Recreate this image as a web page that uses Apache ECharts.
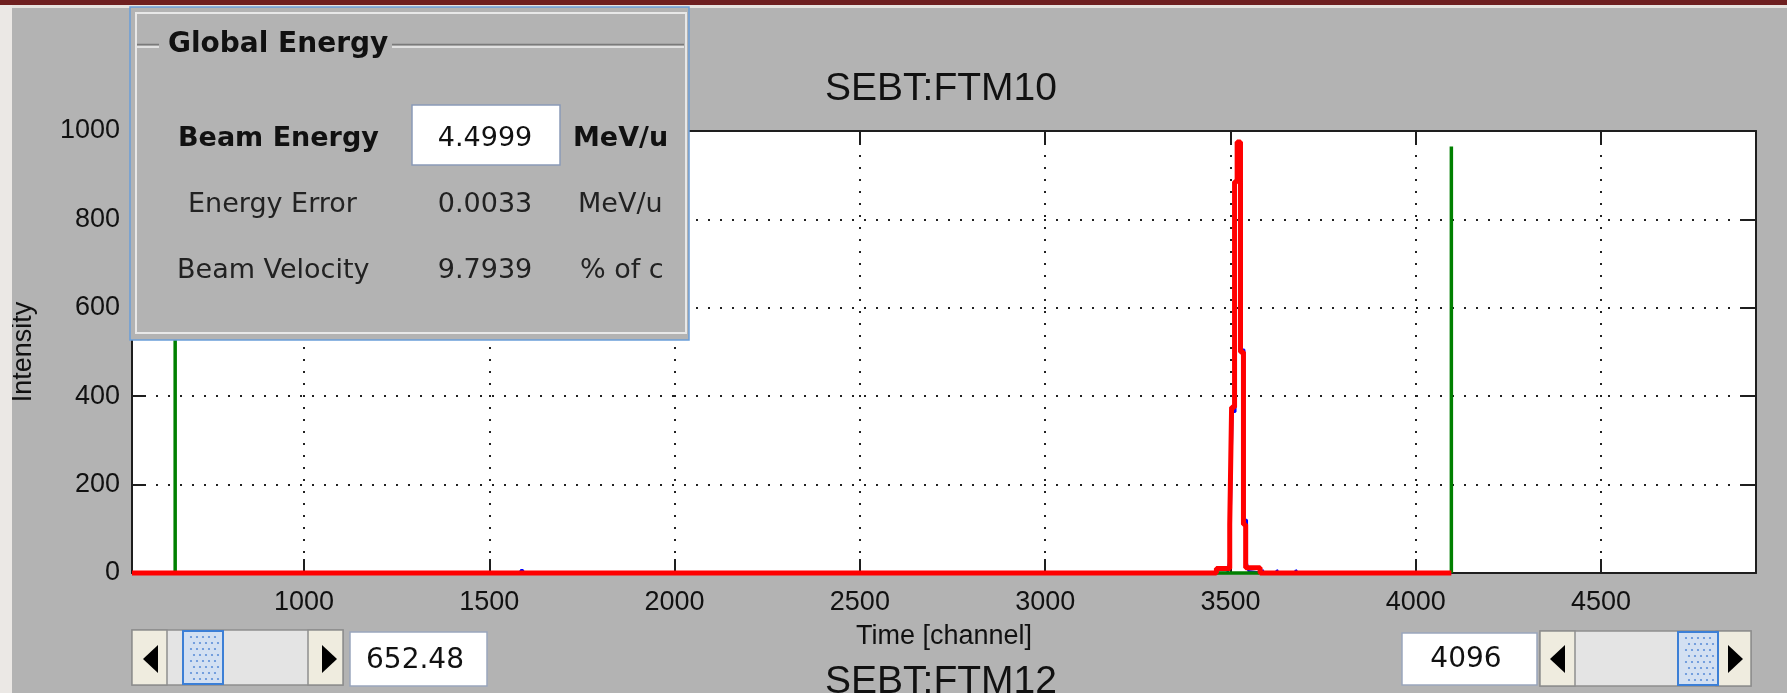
<!DOCTYPE html>
<html>
<head>
<meta charset="utf-8">
<title>SEBT:FTM10</title>
<script src="https://cdn.jsdelivr.net/npm/echarts@6/dist/echarts.min.js"></script>
<style>
  html, body { margin: 0; padding: 0; background: #b3b3b3; }
  #chart { width: 1787px; height: 693px; }
</style>
</head>
<body>
<div id="chart"></div>
<script>
// axis limits and ticks
const xMin = 536
const xMax = 4918
const xTicks = [1000, 1500, 2000, 2500, 3000, 3500, 4000, 4500]
const yMin = 0
const yMax = 1000
const yStep = 200

// fitted profile (red), drawn as stairs
const redX = [536, 3462, 3498, 3503, 3511, 3518, 3527, 3535, 3541, 3580, 4096]
const redY = [0, 10, 110, 375, 885, 975, 500, 110, 12, 0, 0]

// raw profile (blue)
const blueX = [536, 1585, 1591, 3492, 3496, 3500, 3505, 3513, 3519, 3524, 3529, 3537, 3544, 3549, 3553, 3586, 3590, 3625, 3629, 3676, 3681, 4096]
const blueY = [0, 6, 0, 0, 22, 112, 365, 885, 973, 925, 505, 120, 22, 4, 0, 7, 0, 7, 0, 7, 0, 0]

// window markers (green)
const markerChannels = [652.48, 4096]
const markerHeight = 965
const windowBase = [3462, 3578]

// panel values
const beamEnergy = '4.4999'
const energyError = '0.0033'
const beamVelocity = '9.7939'

const chart = echarts.init(document.getElementById('chart'))

const axisFont = 'Liberation Sans'
const panelFont = '"DejaVu Sans"'
const zip = (xs, ys) => xs.map((x, i) => [x, ys[i]])

const greenSeries = markerChannels.map(c => ({
  type: 'line', data: [[c, 0], [c, markerHeight]], showSymbol: false, clip: false, z: 3,
  lineStyle: { color: '#008000', width: 3.5 }, silent: true
}))
greenSeries.push({
  type: 'line', data: [[windowBase[0], 0], [windowBase[1], 0]], showSymbol: false, clip: false, z: 3,
  lineStyle: { color: '#008000', width: 3.5 }, silent: true
})

const txt = (text, x, y, font, align, color) => ({
  type: 'text', z: 20, silent: true,
  style: { text, x, y, font, fill: color || '#111', align: align || 'left', textAlign: align || 'left', verticalAlign: 'middle', textVerticalAlign: 'middle' }
})
const box = (x, y, w, h, fill, stroke, lw) => ({
  type: 'rect', z: 20, silent: true,
  shape: { x, y, width: w, height: h },
  style: { fill: fill || 'none', stroke: stroke || 'none', lineWidth: lw || 1 }
})
const line = (x1, y1, x2, y2, color, w) => ({
  type: 'line', z: 21, silent: true,
  shape: { x1, y1, x2, y2 }, style: { stroke: color, lineWidth: w || 1 }
})
const tri = (pts) => ({ type: 'polygon', z: 22, silent: true, shape: { points: pts }, style: { fill: '#000' } })

// scrollbar with a dotted thumb
const slider = (x, y, thumbX) => {
  const els = [
    box(x, y, 211, 55, '#e4e4e4', '#8f8f8f', 1.5),
    box(x, y, 35, 55, '#efecdf', '#8f8f8f', 1.5),
    box(x + 176, y, 35, 55, '#efecdf', '#8f8f8f', 1.5),
    box(thumbX, y + 1, 40, 53, '#d3e0f2', '#3c7fd6', 2)
  ]
  for (let r = 0; r < 8; r++) {
    for (let c = 0; c < 5; c++) {
      els.push({
        type: 'circle', z: 22, silent: true,
        shape: { cx: thumbX + 8 + c * 6 + (r % 2) * 3, cy: y + 7 + r * 6, r: 1.1 },
        style: { fill: '#5d8fd8' }
      })
    }
  }
  return els
}

const dy = 4
const graphics = [
  box(0, 0, 1787, 5, '#6f1f1f'),
  box(0, 5, 1787, 3, '#e7e3df'),
  box(0, 5, 12, 688, '#ebe8e5'),
  // title texts
  txt('SEBT:FTM10', 941, 85 + dy, '39px "' + axisFont + '"', 'center', '#111'),
  txt('SEBT:FTM12', 941, 678 + dy, '39px "' + axisFont + '"', 'center', '#111'),
  // Global Energy panel
  box(130, 7, 559, 333, '#b3b3b3', '#6b9fd9', 1.5),
  box(136, 13, 550, 320, 'none', '#e8e8e8', 2),
  line(137, 44.5, 159, 44.5, '#7a7a7a', 1.5),
  line(137, 47, 159, 47, '#f0f0f0', 1.5),
  line(392, 44.5, 684, 44.5, '#7a7a7a', 1.5),
  line(392, 47, 684, 47, '#f0f0f0', 1.5),
  txt('Global Energy', 168, 41 + dy, 'bold 28px ' + panelFont),
  txt('Beam Energy', 178, 135 + dy, 'bold 27px ' + panelFont),
  box(412, 105, 148, 60, '#ffffff', '#8a9ab8', 1.5),
  txt(beamEnergy, 485, 135 + dy, '27px ' + panelFont, 'center'),
  txt('MeV/u', 573, 135 + dy, 'bold 27px ' + panelFont),
  txt('Energy Error', 188, 201 + dy, '27px ' + panelFont, 'left', '#222'),
  txt(energyError, 485, 201 + dy, '27px ' + panelFont, 'center', '#222'),
  txt('MeV/u', 578, 201 + dy, '27px ' + panelFont, 'left', '#222'),
  txt('Beam Velocity', 177, 267 + dy, '27px ' + panelFont, 'left', '#222'),
  txt(beamVelocity, 485, 267 + dy, '27px ' + panelFont, 'center', '#222'),
  txt('% of c', 580, 267 + dy, '27px ' + panelFont, 'left', '#222'),
  // bottom left control
  ...slider(132, 630, 183),
  tri([[143, 659], [158, 645], [158, 673]]),
  tri([[322, 645], [322, 673], [337, 659]]),
  box(350, 632, 137, 54, '#ffffff', '#9aa6bd', 1.5),
  txt('652.48', 415, 661, '28px ' + panelFont, 'center'),
  // bottom right control
  box(1402, 633, 135, 52, '#ffffff', '#9aa6bd', 1.5),
  txt('4096', 1466, 660, '28px ' + panelFont, 'center'),
  ...slider(1540, 631, 1678),
  tri([[1550, 659], [1565, 645], [1565, 673]]),
  tri([[1728, 645], [1728, 673], [1743, 659]])
]

const axisLineStyle = { color: '#1e1e1e', width: 2 }
const gridLine = { show: true, lineStyle: { color: '#222', width: 2, type: [2, 10] } }
const plain = v => String(v)

chart.setOption({
  backgroundColor: '#b3b3b3',
  animation: false,
  grid: { left: 132, right: 31, top: 131, bottom: 120, show: true, backgroundColor: '#ffffff', borderWidth: 0 },
  xAxis: [
    {
      type: 'value', min: xMin, max: xMax, position: 'bottom',
      axisLine: { show: true, onZero: false, lineStyle: axisLineStyle },
      axisTick: { show: true, inside: true, length: 14, customValues: xTicks, lineStyle: axisLineStyle },
      axisLabel: { customValues: xTicks, formatter: plain, margin: 16, color: '#111', fontSize: 27, fontFamily: axisFont },
      splitLine: gridLine,
      name: 'Time [channel]', nameLocation: 'middle', nameGap: 50,
      nameTextStyle: { color: '#111', fontSize: 27, fontFamily: axisFont }
    },
    {
      type: 'value', min: xMin, max: xMax, position: 'top',
      axisLine: { show: true, onZero: false, lineStyle: axisLineStyle },
      axisTick: { show: true, inside: true, length: 14, customValues: xTicks, lineStyle: axisLineStyle },
      axisLabel: { show: false, customValues: xTicks },
      splitLine: { show: false }
    }
  ],
  yAxis: [
    {
      type: 'value', min: yMin, max: yMax, interval: yStep, position: 'left',
      axisLine: { show: true, onZero: false, lineStyle: axisLineStyle },
      axisTick: { show: true, inside: true, length: 14, lineStyle: axisLineStyle },
      axisLabel: { formatter: plain, margin: 12, color: '#111', fontSize: 27, fontFamily: axisFont },
      splitLine: gridLine,
      name: 'Intensity', nameLocation: 'middle', nameGap: 95, nameRotate: 90,
      nameTextStyle: { color: '#111', fontSize: 27, fontFamily: axisFont }
    },
    {
      type: 'value', min: yMin, max: yMax, interval: yStep, position: 'right',
      axisLine: { show: true, onZero: false, lineStyle: axisLineStyle },
      axisTick: { show: true, inside: true, length: 14, lineStyle: axisLineStyle },
      axisLabel: { show: false },
      splitLine: { show: false }
    }
  ],
  series: [
    {
      name: 'raw', type: 'line', step: 'end', data: zip(blueX, blueY), showSymbol: false, z: 2,
      lineStyle: { color: '#0000ff', width: 2.5 }, silent: true
    },
    ...greenSeries,
    {
      name: 'fit', type: 'line', step: 'end', data: zip(redX, redY), showSymbol: false, clip: false, z: 4,
      lineStyle: { color: '#ff0000', width: 5 }, silent: true
    }
  ],
  graphic: { elements: graphics }
})
</script>
</body>
</html>
